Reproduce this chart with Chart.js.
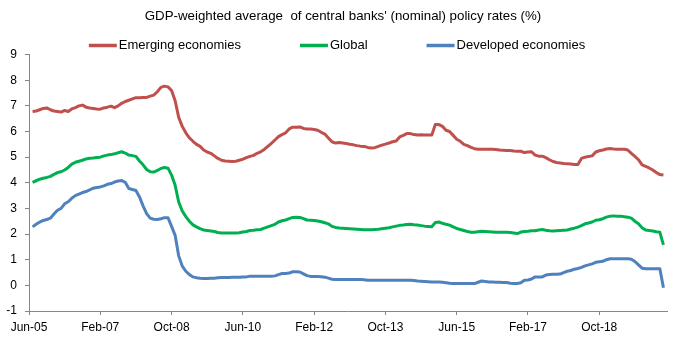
<!DOCTYPE html>
<html>
<head>
<meta charset="utf-8">
<script src="https://cdn.jsdelivr.net/npm/chart.js@4.4.1/dist/chart.umd.min.js"></script>
<style>
  html, body { margin: 0; padding: 0; background: #ffffff; }
  #wrap { width: 683px; height: 343px; position: relative; }
</style>
</head>
<body>
<div id="wrap"><canvas id="c" width="683" height="343"></canvas></div>
<script>
// x-axis tick labels, every 20 months starting Jun-05
const tickLabels = ['Jun-05', 'Feb-07', 'Oct-08', 'Jun-10', 'Feb-12', 'Oct-13', 'Jun-15', 'Feb-17', 'Oct-18'];

// monthly series, Jul-05 .. Apr-20
const emerging = [
  6.78, 6.80, 6.85, 6.90, 6.92, 6.85, 6.80, 6.78, 6.76, 6.82,
  6.78, 6.88, 6.93, 7.00, 7.03, 6.95, 6.92, 6.90, 6.88, 6.87,
  6.92, 6.95, 6.99, 6.93, 7.00, 7.10, 7.17, 7.22, 7.27, 7.32,
  7.32, 7.33, 7.33, 7.38, 7.42, 7.55, 7.72, 7.77, 7.74, 7.60,
  7.20, 6.55, 6.20, 5.95, 5.75, 5.62, 5.50, 5.42, 5.28, 5.20,
  5.15, 5.05, 4.95, 4.88, 4.85, 4.84, 4.83, 4.84, 4.88, 4.92,
  4.98, 5.03, 5.07, 5.15, 5.21, 5.30, 5.42, 5.54, 5.67, 5.80,
  5.88, 5.95, 6.10, 6.17, 6.17, 6.18, 6.12, 6.10, 6.10, 6.08,
  6.05, 5.97, 5.90, 5.75, 5.60, 5.55, 5.57, 5.55, 5.53, 5.50,
  5.48, 5.45, 5.43, 5.42, 5.38, 5.36, 5.37, 5.42, 5.47, 5.51,
  5.55, 5.60, 5.63, 5.79, 5.85, 5.92, 5.92, 5.88, 5.86, 5.87,
  5.86, 5.86, 5.86, 6.27, 6.27, 6.20, 6.05, 6.00, 5.85, 5.70,
  5.62, 5.50, 5.45, 5.38, 5.33, 5.31, 5.31, 5.31, 5.31, 5.31,
  5.30, 5.28, 5.27, 5.26, 5.26, 5.24, 5.23, 5.23, 5.18, 5.20,
  5.21, 5.08, 5.04, 5.04, 4.98, 4.90, 4.83, 4.79, 4.77, 4.75,
  4.74, 4.73, 4.71, 4.71, 4.95, 5.00, 5.03, 5.05, 5.20, 5.25,
  5.28, 5.32, 5.34, 5.32, 5.31, 5.31, 5.31, 5.28, 5.15, 5.03,
  4.90, 4.70, 4.64, 4.58, 4.50, 4.40, 4.32, 4.30
];
const global = [
  4.02, 4.08, 4.14, 4.18, 4.21, 4.25, 4.33, 4.40, 4.43, 4.50,
  4.60, 4.73, 4.80, 4.84, 4.88, 4.93, 4.96, 4.97, 4.99, 5.00,
  5.05, 5.08, 5.10, 5.13, 5.17, 5.21, 5.16, 5.08, 5.06, 5.03,
  4.85, 4.70, 4.52, 4.43, 4.42, 4.48, 4.56, 4.60, 4.57, 4.30,
  3.90, 3.25, 2.90, 2.68, 2.50, 2.36, 2.28, 2.21, 2.16, 2.14,
  2.12, 2.10, 2.06, 2.04, 2.04, 2.04, 2.04, 2.04, 2.05, 2.08,
  2.10, 2.14, 2.15, 2.17, 2.18, 2.23, 2.28, 2.33, 2.38, 2.47,
  2.52, 2.55, 2.60, 2.65, 2.66, 2.65, 2.60, 2.55, 2.54, 2.53,
  2.51, 2.48, 2.44, 2.40, 2.30, 2.26, 2.24, 2.23, 2.22, 2.21,
  2.20, 2.19, 2.18, 2.17, 2.17, 2.17, 2.18, 2.19, 2.21, 2.23,
  2.25, 2.28, 2.31, 2.34, 2.35, 2.37, 2.38, 2.36, 2.35, 2.33,
  2.31, 2.30, 2.29, 2.45, 2.47, 2.42, 2.38, 2.35, 2.28, 2.22,
  2.18, 2.14, 2.10, 2.07, 2.07, 2.09, 2.11, 2.10, 2.09, 2.08,
  2.07, 2.07, 2.07, 2.07, 2.06, 2.04, 2.02, 2.08, 2.10, 2.11,
  2.13, 2.13, 2.16, 2.18, 2.15, 2.13, 2.12, 2.13, 2.14, 2.15,
  2.16, 2.20, 2.23, 2.27, 2.33, 2.40, 2.43, 2.47, 2.54, 2.56,
  2.60, 2.66, 2.70, 2.71, 2.70, 2.70, 2.68, 2.66, 2.62, 2.50,
  2.40, 2.25, 2.16, 2.14, 2.12, 2.09, 2.07, 1.58
];
const developed = [
  2.28, 2.38, 2.47, 2.53, 2.57, 2.62, 2.78, 2.93, 3.00, 3.18,
  3.26, 3.40, 3.50, 3.56, 3.62, 3.66, 3.72, 3.79, 3.82, 3.84,
  3.88, 3.94, 3.97, 4.03, 4.07, 4.09, 4.02, 3.78, 3.74, 3.70,
  3.45, 3.10, 2.80, 2.62, 2.58, 2.57, 2.60, 2.64, 2.64, 2.30,
  1.95, 1.15, 0.75, 0.55, 0.42, 0.33, 0.30, 0.28, 0.27, 0.27,
  0.28, 0.28, 0.30, 0.31, 0.31, 0.31, 0.32, 0.32, 0.32, 0.33,
  0.33, 0.36, 0.36, 0.36, 0.36, 0.36, 0.36, 0.36, 0.37, 0.42,
  0.46, 0.46, 0.48, 0.53, 0.53, 0.52, 0.45, 0.38, 0.35, 0.35,
  0.35, 0.34, 0.32, 0.28, 0.24, 0.23, 0.23, 0.23, 0.23, 0.23,
  0.23, 0.23, 0.23, 0.22, 0.20, 0.20, 0.20, 0.20, 0.20, 0.20,
  0.20, 0.20, 0.20, 0.20, 0.20, 0.20, 0.20, 0.19, 0.17, 0.16,
  0.15, 0.14, 0.13, 0.13, 0.13, 0.12, 0.10, 0.08, 0.07, 0.07,
  0.07, 0.07, 0.07, 0.07, 0.07, 0.12, 0.17, 0.15, 0.13, 0.13,
  0.12, 0.12, 0.11, 0.11, 0.08, 0.07, 0.07, 0.10, 0.20, 0.21,
  0.25, 0.33, 0.33, 0.33, 0.40, 0.42, 0.43, 0.43, 0.44, 0.50,
  0.55, 0.58, 0.63, 0.66, 0.70, 0.76, 0.80, 0.84, 0.90, 0.92,
  0.94, 1.00, 1.04, 1.04, 1.04, 1.04, 1.04, 1.04, 1.02, 0.93,
  0.80, 0.67, 0.65, 0.65, 0.65, 0.65, 0.65, -0.09
];

const titleText = "GDP-weighted average  of central banks' (nominal) policy rates (%)";
const seriesNames = ['Emerging economies', 'Global', 'Developed economies'];
const seriesColors = ['#C0504D', '#00B050', '#4F81BD'];

// month categories: index 0 = Jun-05 (axis start); data starts Jul-05
const monNames = ['Jan','Feb','Mar','Apr','May','Jun','Jul','Aug','Sep','Oct','Nov','Dec'];
const months = [];
for (let i = 0; i < emerging.length; i++) {
  const m = 6 + i;
  const yr = 5 + Math.floor(m / 12);
  months.push(monNames[m % 12] + '-' + String(yr).padStart(2, '0'));
}
const toPoints = arr => arr.map((v, i) => ({ x: i + 1, y: v }));

const FONT = '"Liberation Sans", Arial, sans-serif';
Chart.defaults.font.family = FONT;
Chart.defaults.color = '#000000';

const headerPlugin = {
  id: 'headerPlugin',
  afterDraw(chart) {
    const ctx = chart.ctx;
    ctx.save();
    // title
    ctx.font = '13.3px ' + FONT;
    ctx.fillStyle = '#000000';
    ctx.textAlign = 'center';
    ctx.textBaseline = 'middle';
    ctx.fillText(titleText, 343, 16);
    // legend
    ctx.font = '13px ' + FONT;
    ctx.textAlign = 'left';
    const lineW = 28, gapTxt = 2, gapItem = 59;
    const items = chart.data.datasets.map(ds => ({ text: ds.label, color: ds.borderColor, w: ctx.measureText(ds.label).width }));
    let total = 0;
    items.forEach((it, i) => { total += lineW + gapTxt + it.w + (i ? gapItem : 0); });
    let x = 337 - total / 2;
    const y = 45.5;
    items.forEach(it => {
      ctx.strokeStyle = it.color;
      ctx.lineWidth = 3.5;
      ctx.lineCap = 'butt';
      ctx.beginPath();
      ctx.moveTo(x, y);
      ctx.lineTo(x + lineW, y);
      ctx.stroke();
      ctx.fillStyle = '#000000';
      ctx.fillText(it.text, x + lineW + gapTxt, y);
      x += lineW + gapTxt + it.w + gapItem;
    });
    ctx.restore();
  }
};

const mkDs = (arr, i) => ({
  label: seriesNames[i],
  data: toPoints(arr),
  borderColor: seriesColors[i],
  backgroundColor: seriesColors[i],
  borderWidth: 3,
  pointRadius: 0,
  pointHoverRadius: 0,
  tension: 0,
  borderJoinStyle: 'round',
  fill: false
});

new Chart(document.getElementById('c'), {
  type: 'line',
  data: { labels: months, datasets: [mkDs(emerging, 0), mkDs(global, 1), mkDs(developed, 2)] },
  options: {
    responsive: false,
    animation: false,
    events: [],
    layout: { padding: { left: 0, right: 16, top: 54.6, bottom: 0 } },
    plugins: {
      legend: { display: false },
      tooltip: { enabled: false },
      title: { display: false }
    },
    scales: {
      x: {
        type: 'linear',
        min: 0,
        max: 179,
        afterFit: s => { s.height = 32; },
        grid: { display: true, drawOnChartArea: false, drawTicks: true, tickLength: 4, color: '#868686' },
        border: { display: true, color: '#868686', width: 1 },
        ticks: {
          stepSize: 20,
          includeBounds: false,
          autoSkip: false,
          maxRotation: 0,
          padding: 5,
          font: { size: 12, family: FONT },
          color: '#000000',
          callback: v => (v % 20 === 0 && tickLabels[v / 20] !== undefined) ? tickLabels[v / 20] : ''
        }
      },
      y: {
        min: -1,
        max: 9,
        afterFit: s => { s.width = 29; },
        grid: { display: true, drawOnChartArea: false, drawTicks: true, tickLength: 4, color: '#868686' },
        border: { display: true, color: '#868686', width: 1 },
        ticks: { stepSize: 1, padding: 8, font: { size: 12, family: FONT }, color: '#000000' }
      }
    }
  },
  plugins: [headerPlugin]
});
</script>
</body>
</html>
